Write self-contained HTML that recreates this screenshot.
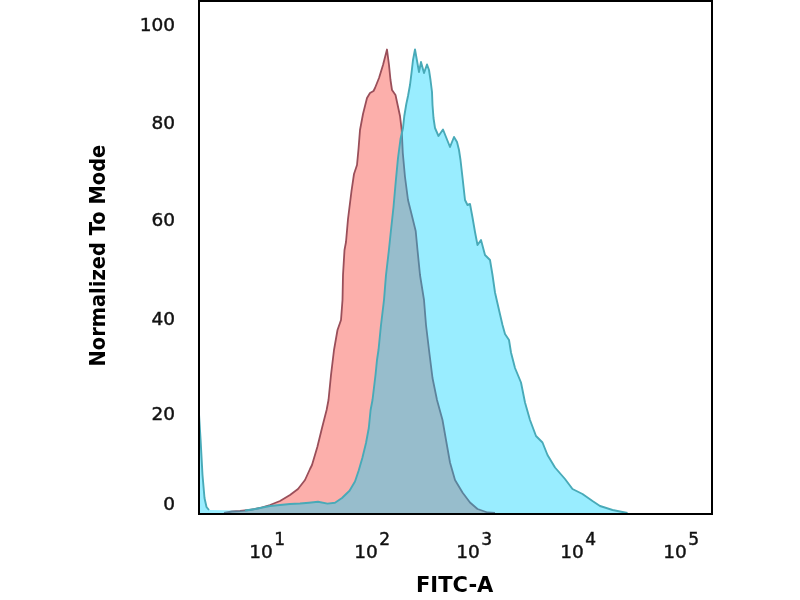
<!DOCTYPE html>
<html><head><meta charset="utf-8"><title>FITC-A</title>
<style>
html,body{margin:0;padding:0;background:#fff;}
body{width:800px;height:600px;overflow:hidden;position:relative;font-family:"DejaVu Sans","Liberation Sans",sans-serif;color:#111;}
svg{position:absolute;left:0;top:0;}
.yt{position:absolute;right:625px;font-size:18.5px;-webkit-text-stroke:0.45px #111;line-height:20px;height:20px;text-align:right;white-space:nowrap;}
.xt{position:absolute;top:542px;font-size:18.5px;-webkit-text-stroke:0.45px #111;line-height:20px;white-space:nowrap;}
.xt sup{font-size:17px;position:relative;top:-13px;vertical-align:baseline;margin-left:1.5px;line-height:0;}
.xl{position:absolute;left:416px;top:572.5px;font-weight:bold;font-size:21px;line-height:24px;white-space:nowrap;color:#000;transform-origin:0 0;}
.yl{position:absolute;left:0;top:0;font-weight:bold;font-size:21px;line-height:24px;white-space:nowrap;color:#000;transform-origin:0 0;transform:translate(86px,366.5px) rotate(-90deg) scaleX(0.926);}
</style></head><body>
<svg width="800" height="600" viewBox="0 0 800 600">
<defs><clipPath id="c"><rect x="199" y="1" width="513" height="513"/></clipPath></defs>
<g clip-path="url(#c)">
<polygon points="224,513 232,511.5 240,511 250,510 260,508 270,505 280,501 290,495 298,489 305,480 310,469 312,465 317.4,446.7 322,428 326.6,410 328.5,400 331,375 334,350 337.5,330 341,320 342.5,300 343,275 344.5,250 346,242 348,219 351.5,191 354,174 357,165 358.5,149 360,130 363,114 367,98 370,93 373.5,91 375,88 379,78 383,65 387,49.5 389,65 390.5,80 392,90 395.5,95 397,102 400,116 401.7,130 402.8,153 405,177 408,200 412,216 415.7,231 417.5,250 420,275 424,300 426,325 429,350 432.5,378 437,400 442.5,420 446,440 450,462.5 455,480 462.5,492.5 470,502.5 477.5,509 487.5,512.5 495,513" fill="rgba(248,55,45,0.4)" stroke="none"/>
<polyline points="224,513 232,511.5 240,511 250,510 260,508 270,505 280,501 290,495 298,489 305,480 310,469 312,465 317.4,446.7 322,428 326.6,410 328.5,400 331,375 334,350 337.5,330 341,320 342.5,300 343,275 344.5,250 346,242 348,219 351.5,191 354,174 357,165 358.5,149 360,130 363,114 367,98 370,93 373.5,91 375,88 379,78 383,65 387,49.5 389,65 390.5,80 392,90 395.5,95 397,102 400,116 401.7,130 402.8,153 405,177 408,200 412,216 415.7,231 417.5,250 420,275 424,300 426,325 429,350 432.5,378 437,400 442.5,420 446,440 450,462.5 455,480 462.5,492.5 470,502.5 477.5,509 487.5,512.5 495,513" fill="none" stroke="#9a4f5a" stroke-width="1.8" stroke-linejoin="round"/>
<polygon points="199,513 199,414 200.6,440 202.5,475 204.5,498 206.5,507 209,510 225,510.3 236,510.6 245,510.5 255,509 270,506 290,504 300,503.5 309,502.7 318,501.7 327.5,503.6 335,502.7 342,498 349.5,490.7 355,481.5 358.7,470.5 362.4,457.7 366,443 368.8,428 370.6,410 372.5,400 375.5,375 377,360 378.5,350 381,325 384,300 386,275 388.8,251 391,230 393.5,207 395.8,181 398,158 400.5,139 403,128 404.3,116 406.3,104 408,96 410,85 411.5,73 413,60 415,49.5 416.5,58 419,72 421,62 424,73 427,64.5 429,70 430.5,80 432,92 432.5,105 433.5,118 435,128 438.5,136 443,129.5 446,137 450,147 454,137 457,142 459,150 460.5,160 462.5,177.5 465,200 467.5,205 470,204 472.5,217.5 475,232 477.5,245 481,240 485,255 490,260 492.5,275 495,292.5 499,310 502.5,325 505,334 509,340 511,352.5 515,368 521,382.5 525,402.5 530,420 536,436 542.5,442.5 547.5,455 555,467.5 565,479 572.5,489 582.5,494 592.5,501 600,506 612.5,510 627.5,513" fill="rgba(0,210,255,0.4)" stroke="none"/>
<polyline points="199,414 200.6,440 202.5,475 204.5,498 206.5,507 209,510" fill="none" stroke="#48aab8" stroke-width="1.9" stroke-linejoin="round"/>
<polyline points="245,510.5 255,509 270,506 290,504 300,503.5 309,502.7 318,501.7 327.5,503.6 335,502.7 342,498 349.5,490.7 355,481.5 358.7,470.5 362.4,457.7 366,443 368.8,428 370.6,410 372.5,400 375.5,375 377,360 378.5,350 381,325 384,300 386,275 388.8,251 391,230 393.5,207 395.8,181 398,158 400.5,139 403,128 404.3,116 406.3,104 408,96 410,85 411.5,73 413,60 415,49.5 416.5,58 419,72 421,62 424,73 427,64.5 429,70 430.5,80 432,92 432.5,105 433.5,118 435,128 438.5,136 443,129.5 446,137 450,147 454,137 457,142 459,150 460.5,160 462.5,177.5 465,200 467.5,205 470,204 472.5,217.5 475,232 477.5,245 481,240 485,255 490,260 492.5,275 495,292.5 499,310 502.5,325 505,334 509,340 511,352.5 515,368 521,382.5 525,402.5 530,420 536,436 542.5,442.5 547.5,455 555,467.5 565,479 572.5,489 582.5,494 592.5,501 600,506 612.5,510 627.5,513" fill="none" stroke="#48aab8" stroke-width="1.9" stroke-linejoin="round"/>
</g>
<rect x="199" y="1" width="513" height="513" fill="none" stroke="#000" stroke-width="2"/>
</svg>
<div class="yt" style="top:15px">100</div>
<div class="yt" style="top:113px">80</div>
<div class="yt" style="top:210px">60</div>
<div class="yt" style="top:308.5px">40</div>
<div class="yt" style="top:404px">20</div>
<div class="yt" style="top:494px">0</div>
<div class="xt" style="left:249.3px">10<sup>1</sup></div>
<div class="xt" style="left:354.3px">10<sup>2</sup></div>
<div class="xt" style="left:456.3px">10<sup>3</sup></div>
<div class="xt" style="left:560.3px">10<sup>4</sup></div>
<div class="xt" style="left:663.3px">10<sup>5</sup></div>
<div class="xl">FITC-A</div>
<div class="yl">Normalized To Mode</div>
</body></html>
